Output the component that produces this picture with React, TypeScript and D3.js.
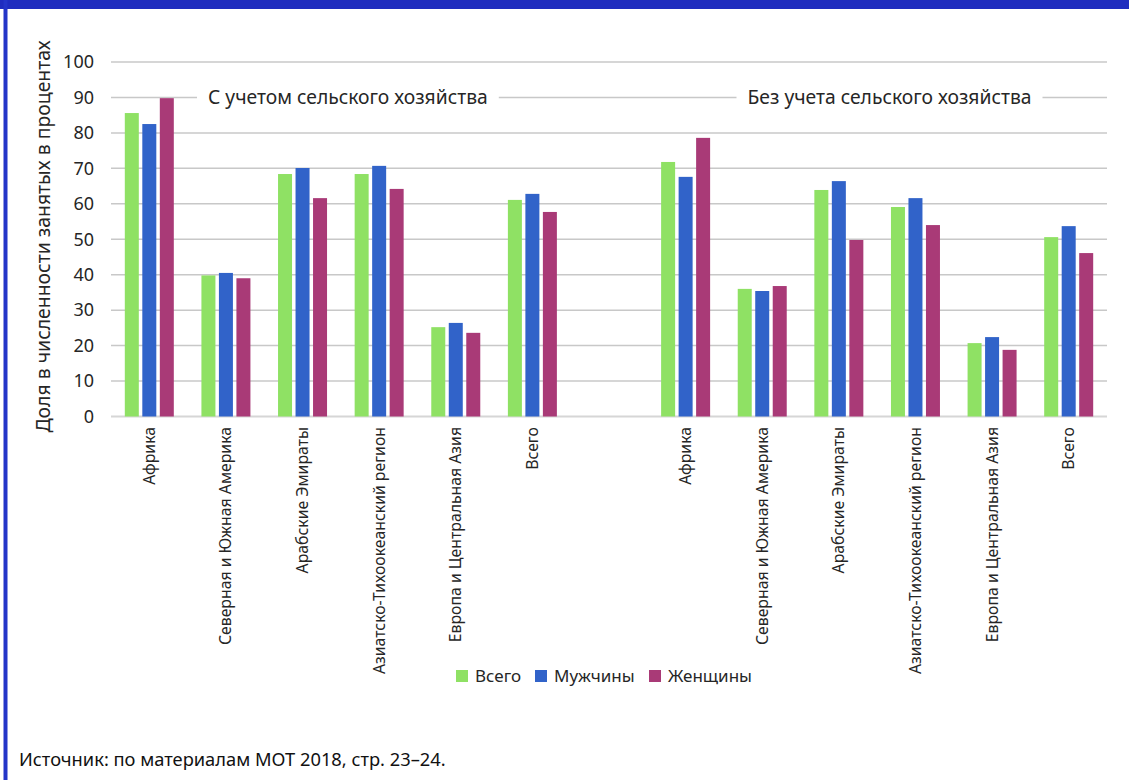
import React, { useEffect, useRef } from "react";
import * as d3 from "d3";

const categories = [
  "Африка",
  "Северная и Южная Америка",
  "Арабские Эмираты",
  "Азиатско-Тихоокеанский регион",
  "Европа и Центральная Азия",
  "Всего",
];
const sections = ["С учетом сельского хозяйства", "Без учета сельского хозяйства"];
const seriesNames = ["Всего", "Мужчины", "Женщины"];
const seriesColors = ["#8fe164", "#3163c9", "#a93a77"];

const withAgriTotal = [85.6, 39.8, 68.4, 68.4, 25.2, 61.1];
const withAgriMen = [82.5, 40.5, 70.1, 70.7, 26.4, 62.8];
const withAgriWomen = [89.8, 39.0, 61.6, 64.2, 23.6, 57.7];
const withoutAgriTotal = [71.8, 36.0, 63.9, 59.1, 20.7, 50.6];
const withoutAgriMen = [67.6, 35.4, 66.4, 61.6, 22.4, 53.7];
const withoutAgriWomen = [78.6, 36.8, 49.8, 54.0, 18.8, 46.1];

const yTicks = [0, 10, 20, 30, 40, 50, 60, 70, 80, 90, 100];
const yTitle = "Доля в численности занятых в процентах";
const sourceText = "Источник: по материалам МОТ 2018, стр. 23–24.";

const sectionData = [
  [withAgriTotal, withAgriMen, withAgriWomen],
  [withoutAgriTotal, withoutAgriMen, withoutAgriWomen],
];

const W = 1129;
const H = 780;
const FONT = "'Noto Sans', 'Open Sans', sans-serif";
const TEXT = "#262626";

export default function App() {
  const ref = useRef<SVGSVGElement>(null);

  useEffect(() => {
    const svg = d3.select(ref.current);
    svg.selectAll("*").remove();

    // frame
    svg.append("rect").attr("x", 0).attr("y", 0).attr("width", W).attr("height", H).attr("fill", "#fff");
    svg.append("rect").attr("x", 0).attr("y", 0).attr("width", W).attr("height", 9).attr("fill", "#1f2dbf");
    svg.append("rect").attr("x", 3.5).attr("y", 0).attr("width", 4).attr("height", H).attr("fill", "#2435c8");

    const slots: string[] = [];
    sections.forEach((_, s) => {
      categories.forEach((_, i) => slots.push(`${s}-${i}`));
      if (s === 0) slots.push("gap");
    });

    const x = d3.scaleBand<string>().domain(slots).range([111, 1107]).padding(0);
    const y = d3.scaleLinear().domain([0, 100]).range([416.5, 62]);
    const inner = d3.scaleBand<string>().domain(seriesNames).range([-28, 28]).padding(0.2);

    // gridlines
    svg
      .append("g")
      .selectAll("line")
      .data(yTicks)
      .join("line")
      .attr("x1", 111)
      .attr("x2", 1107)
      .attr("y1", (d) => y(d))
      .attr("y2", (d) => y(d))
      .attr("stroke", (d) => (d === 0 ? "#d6d6d6" : "#c8c8c8"))
      .attr("stroke-width", (d) => (d === 0 ? 2 : 1.5));

    // y tick labels
    svg
      .append("g")
      .selectAll("text")
      .data(yTicks)
      .join("text")
      .attr("x", 94)
      .attr("y", (d) => y(d))
      .attr("dy", "0.35em")
      .attr("text-anchor", "end")
      .attr("font-family", FONT)
      .attr("font-size", 18)
      .attr("fill", TEXT)
      .text((d) => d);

    // y title
    svg
      .append("text")
      .attr("transform", `translate(50,236.5) rotate(-90)`)
      .attr("text-anchor", "middle")
      .attr("font-family", FONT)
      .attr("font-size", 19.4)
      .attr("fill", TEXT)
      .text(yTitle);

    // section titles with white background breaking gridline
    const titleStarts = [208, 747.5];
    sections.forEach((t, s) => {
      const g = svg.append("g");
      const bg = g.append("rect").attr("fill", "#fff");
      const txt = g
        .append("text")
        .attr("x", titleStarts[s])
        .attr("y", y(90))
        .attr("dy", "0.35em")
        .attr("font-family", FONT)
        .attr("font-size", 19.3)
        .attr("fill", TEXT)
        .text(t);
      const bb = (txt.node() as SVGTextElement).getBBox();
      bg.attr("x", bb.x - 11).attr("y", y(90) - 3).attr("width", bb.width + 22).attr("height", 6);
    });

    // bars
    sections.forEach((_, s) => {
      const data = sectionData[s];
      categories.forEach((_, i) => {
        const cx = (x(`${s}-${i}`) as number) + x.bandwidth() / 2;
        seriesNames.forEach((name, k) => {
          const v = data[k][i];
          svg
            .append("rect")
            .attr("x", cx + (inner(name) as number))
            .attr("y", y(v))
            .attr("width", inner.bandwidth())
            .attr("height", y(0) - y(v))
            .attr("fill", seriesColors[k]);
        });
        svg
          .append("text")
          .attr("transform", `translate(${cx},427) rotate(-90)`)
          .attr("dy", "0.35em")
          .attr("text-anchor", "end")
          .attr("font-family", FONT)
          .attr("font-size", 15.8)
          .attr("fill", TEXT)
          .text(categories[i]);
      });
    });

    // legend
    const legendX = [456, 535, 649];
    seriesNames.forEach((name, k) => {
      svg
        .append("rect")
        .attr("x", legendX[k])
        .attr("y", 670)
        .attr("width", 12)
        .attr("height", 12)
        .attr("fill", seriesColors[k]);
      svg
        .append("text")
        .attr("x", legendX[k] + 19)
        .attr("y", 676)
        .attr("dy", "0.35em")
        .attr("font-family", FONT)
        .attr("font-size", 17)
        .attr("fill", TEXT)
        .text(name);
    });

    // source
    svg
      .append("text")
      .attr("x", 19)
      .attr("y", 760)
      .attr("dy", "0.35em")
      .attr("font-family", FONT)
      .attr("font-size", 18.3)
      .attr("fill", "#111")
      .text(sourceText);
  }, []);

  return (
    <svg
      ref={ref}
      width={W}
      height={H}
      style={{ position: "absolute", left: 0, top: 0, display: "block" }}
    />
  );
}
